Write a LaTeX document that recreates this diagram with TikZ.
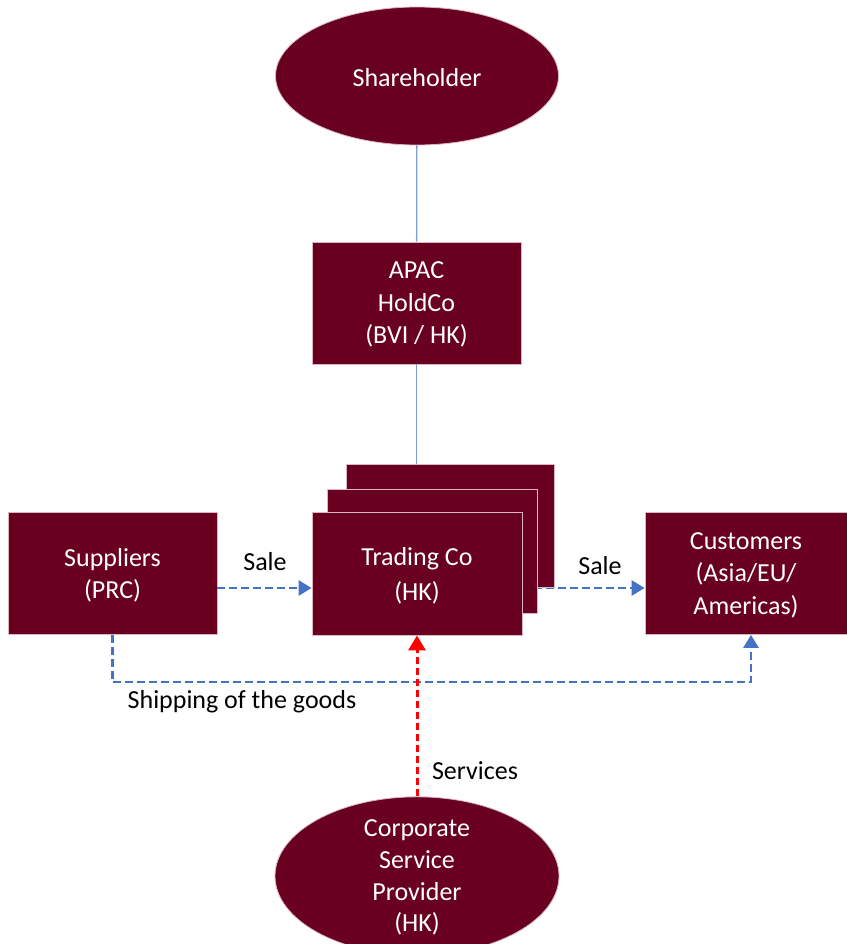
\documentclass[tikz,border=0pt]{standalone}
\usepackage{fontspec}
\setmainfont{Carlito}
\usetikzlibrary{shapes.geometric,arrows.meta,backgrounds}
\definecolor{maroon}{HTML}{69001F}
\definecolor{edgepink}{HTML}{D9B8C2}
\definecolor{offblue}{HTML}{4472C4}
\definecolor{lineblue}{HTML}{7F9ED8}
\tikzset{
  entity/.style={rectangle,fill=maroon,draw=edgepink,line width=0.8pt,
    minimum width=209pt,minimum height=122pt,inner sep=0pt,text depth=0pt,
    text=white,align=center,font=\fontsize{26}{32.5}\selectfont},
  oval/.style={ellipse,fill=maroon,draw=edgepink,line width=0.8pt,
    minimum width=283pt,minimum height=138pt,inner sep=0pt,text depth=0pt,
    text=white,align=center,font=\fontsize{26}{31.7}\selectfont},
  lbl/.style={text=black,font=\fontsize{26}{31.7}\selectfont,inner sep=0pt},
  solidlink/.style={draw=lineblue,line width=1.3pt},
  bluedash/.style={draw=offblue,line width=2.8pt,dash pattern=on 8pt off 4pt,
    -{Triangle[length=13pt,width=15pt]}},
  reddash/.style={draw=red,line width=3pt,dash pattern=on 7pt off 4pt,
    -{Triangle[length=15pt,width=17pt]}}
}
\begin{document}
\begin{tikzpicture}[x=1pt,y=-1pt]
\useasboundingbox (0,0) rectangle (846,944);
\node[oval] (sh) at (417,76) {\raisebox{-2pt}{Shareholder}};
\node[entity] (apac) at (416.5,303) {APAC\\HoldCo\\(BVI / HK)};
\node[entity,minimum width=208pt,minimum height=123pt] (tcb) at (450,525.5) {};
\node[entity,minimum width=210pt,minimum height=124pt] (tcm) at (432,551) {};
\node[entity,minimum width=210pt,minimum height=123pt] (tc) at (417,573.5) {Trading Co\\[2.5pt](HK)};
\node[entity] (sup) at (112.5,573.5) {Suppliers\\(PRC)};
\node[entity,minimum width=202pt] (cust) at (746,573.5) {Customers\\(Asia/EU/\\Americas)};
\node[oval,minimum width=284pt,minimum height=140pt] (csp) at (417,876) {Corporate\\Service\\Provider\\(HK)};
\coordinate (arrowy) at (0,588);
\coordinate (shipy) at (0,682);
\coordinate (custx) at (751,0);
\draw[solidlink] (sh) -- (apac);
\draw[solidlink] (apac.south) -- (apac.south |- tcb.north);
\draw[bluedash] (sup.east |- arrowy) -- (tc.west |- arrowy);
\begin{pgfonlayer}{background}
\draw[bluedash] (tc.east |- arrowy) -- (cust.west |- arrowy);
\end{pgfonlayer}
\draw[bluedash] (sup.south) -- (sup.south |- shipy) -- (custx |- shipy) -- (custx |- cust.south);
\draw[reddash] (csp.north) -- (tc.south);
\node[lbl] (sale1) at (265,562) {Sale};
\node[lbl] (sale2) at (600,566) {Sale};
\node[lbl] (ship) at (242,702) {Shipping of the goods};
\node[lbl] (serv) at (475,771) {Services};
\end{tikzpicture}
\end{document}
